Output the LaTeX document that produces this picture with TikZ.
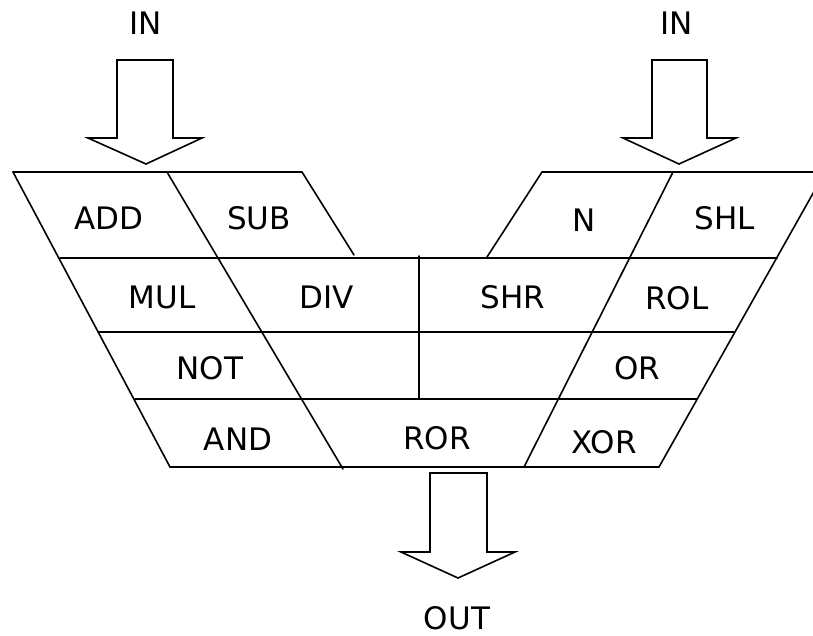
\documentclass[tikz,border=0pt]{standalone}
\usepackage{fontspec}
\setmainfont{DejaVu Sans}
\tikzset{
  ln/.style={line width=1.6pt, line cap=round, line join=miter},
  blockarrow/.style={line width=1.6pt, line join=miter, fill=white},
  lbl/.style={inner sep=0pt, anchor=center, font=\fontsize{31}{31}\selectfont}
}
\begin{document}
\begin{tikzpicture}[x=1pt,y=-1pt]
\useasboundingbox (0,0) rectangle (813,635);
\clip (0,0) rectangle (813,635);
% left block
\draw[ln] (13,172) -- (302,172);
\draw[ln] (13,172) -- (170,467);
\draw[ln] (167,172) -- (343,469);
\draw[ln] (302,172) -- (354,255);
% row lines
\draw[ln] (60,258) -- (777,258);
\draw[ln] (98,332) -- (734,332);
\draw[ln] (135,399) -- (697,399);
\draw[ln] (170,467) -- (659,467);
% center vertical
\draw[ln] (419,256) -- (419,399);
% right block
\draw[ln] (542,172) -- (830,172);
\draw[ln] (542,172) -- (487,257);
\draw[ln] (673,172) -- (524,467);
\draw[ln] (825,172) -- (659,467);
% arrows
\draw[blockarrow] (117,60) -- (173,60) -- (173,138) -- (202,138) -- (146,164) -- (88,138) -- (117,138) -- cycle;
\draw[blockarrow] (652,60) -- (707,60) -- (707,138) -- (736,138) -- (679,164) -- (623,138) -- (652,138) -- cycle;
\draw[blockarrow] (430,473) -- (487,473) -- (487,552) -- (515,552) -- (458,578) -- (401,552) -- (430,552) -- cycle;
% labels
\node[lbl] (in1) at (146,23) {IN};
\node[lbl] (in2) at (677,23) {IN};
\node[lbl] (add) at (109,218) {ADD};
\node[lbl] (sub) at (259,218) {SUB};
\node[lbl] (n) at (584,220) {N};
\node[lbl] (shl) at (725,218) {SHL};
\node[lbl] (mul) at (162,297) {MUL};
\node[lbl] (div) at (327,297) {DIV};
\node[lbl] (shr) at (513,297) {SHR};
\node[lbl] (rol) at (677,298) {ROL};
\node[lbl] (not) at (210,368) {NOT};
\node[lbl] (or) at (637,368) {OR};
\node[lbl] (and) at (238,439) {AND};
\node[lbl] (ror) at (437,438) {ROR};
\node[lbl] (xor) at (604,442) {XOR};
\node[lbl] (out) at (457,618) {OUT};
\end{tikzpicture}
\end{document}
